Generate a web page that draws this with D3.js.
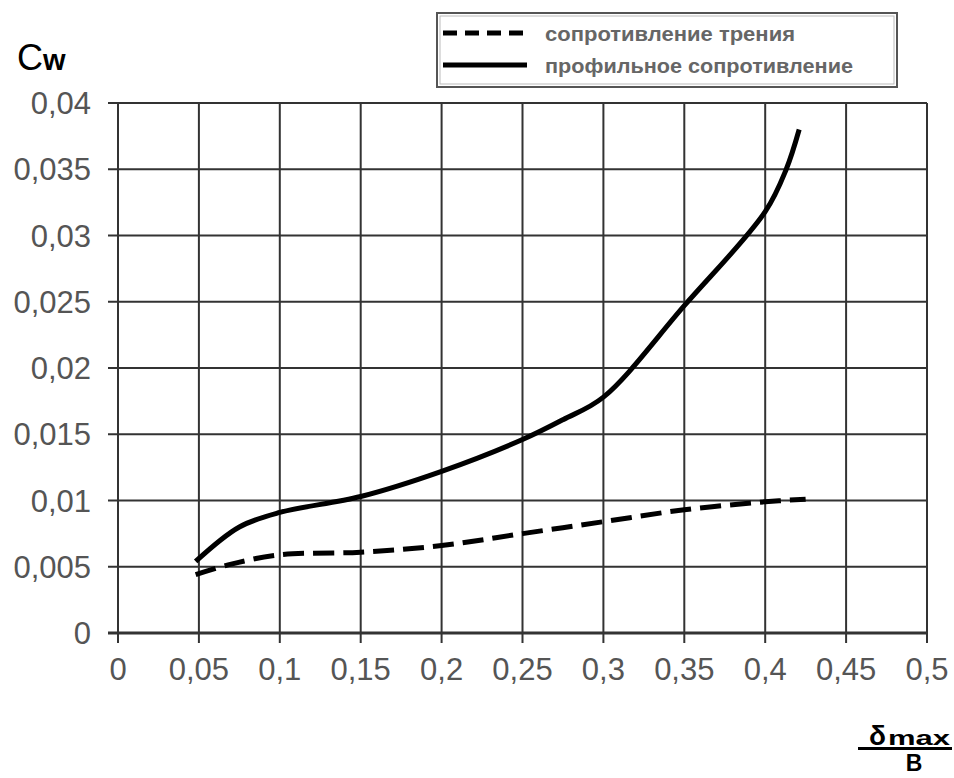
<!DOCTYPE html>
<html><head><meta charset="utf-8">
<script src="https://cdn.jsdelivr.net/npm/d3@7"></script>
<style>body{margin:0;background:#fff}svg{display:block}</style>
</head><body>
<script>
const xTicks = [0,0.05,0.1,0.15,0.2,0.25,0.3,0.35,0.4,0.45,0.5];
const yTicks = [0,0.005,0.01,0.015,0.02,0.025,0.03,0.035,0.04];
const frictionX = [0.048,0.07,0.1,0.15,0.2,0.25,0.3,0.35,0.4,0.425];
const frictionY = [0.0044,0.0052,0.0059,0.0061,0.0066,0.0075,0.0084,0.0093,0.0099,0.0101];
const profileX = [0.048,0.075,0.1,0.15,0.2,0.25,0.275,0.3,0.35,0.4,0.413,0.421];
const profileY = [0.0054,0.008,0.0091,0.0103,0.0122,0.0146,0.0161,0.0178,0.0247,0.0318,0.035,0.038];
const legendLabels = ["сопротивление трения","профильное сопротивление"];

const W=954,H=778;
const FONT="Liberation Sans, Arial, sans-serif";
const svg=d3.select("body").append("svg").attr("width",W).attr("height",H);
const x=d3.scaleLinear().domain([0,0.5]).range([118,927]);
const y=d3.scaleLinear().domain([0,0.04]).range([633,103]);
const fmt=d=>String(d).replace(".",",");

// grid
const g=svg.append("g");
g.selectAll(".vx").data(xTicks).join("line")
 .attr("x1",d=>x(d)).attr("x2",d=>x(d)).attr("y1",y(0.04)).attr("y2",643)
 .attr("stroke","#333").attr("stroke-width",2);
g.selectAll(".hy").data(yTicks).join("line")
 .attr("x1",108).attr("x2",x(0.5)).attr("y1",d=>y(d)).attr("y2",d=>y(d))
 .attr("stroke","#333").attr("stroke-width",d=>d===0?3:2);

// tick labels
svg.selectAll(".yl").data(yTicks).join("text")
 .attr("x",91).attr("y",d=>y(d)).attr("dy","0.36em").attr("text-anchor","end")
 .attr("font-family",FONT).attr("font-size",31)
 .attr("fill","#555").text(fmt);
svg.selectAll(".xl").data(xTicks).join("text")
 .attr("x",d=>x(d)).attr("y",669).attr("dy","0.36em").attr("text-anchor","middle")
 .attr("font-family",FONT).attr("font-size",31)
 .attr("fill","#555").text(fmt);

// series
const line=d3.line().x(d=>x(d[0])).y(d=>y(d[1])).curve(d3.curveCatmullRom.alpha(0.5));
const fr=frictionX.map((v,i)=>[v,frictionY[i]]);
const pr=profileX.map((v,i)=>[v,profileY[i]]);
svg.append("path").attr("d",line(fr)).attr("fill","none").attr("stroke","#000")
 .attr("stroke-width",5).attr("stroke-dasharray","21 9");
svg.append("path").attr("d",line(pr)).attr("fill","none").attr("stroke","#000")
 .attr("stroke-width",5);

// axis titles
const cw=svg.append("text").attr("x",17).attr("y",70)
 .attr("font-family",FONT).attr("fill","#000");
cw.append("tspan").attr("font-size",36).text("C");
cw.append("tspan").attr("font-size",29).attr("font-weight","bold").text("w");

svg.append("text").attr("x",869).attr("y",745).attr("font-family",FONT)
 .attr("font-size",28).attr("font-weight","bold").attr("fill","#000").text("δ");
svg.append("text").attr("x",888).attr("y",745).attr("font-family",FONT)
 .attr("font-size",21).attr("font-weight","bold").attr("fill","#000")
 .attr("textLength",62).attr("lengthAdjust","spacingAndGlyphs").text("max");
svg.append("line").attr("x1",858).attr("x2",952).attr("y1",748.5).attr("y2",748.5)
 .attr("stroke","#000").attr("stroke-width",3);
svg.append("text").attr("x",914).attr("y",771).attr("text-anchor","middle")
 .attr("font-family",FONT)
 .attr("font-size",23).attr("font-weight","bold").attr("fill","#000").text("B");

// legend
svg.append("rect").attr("x",437).attr("y",13).attr("width",460).attr("height",74)
 .attr("fill","#fff").attr("stroke","#555").attr("stroke-width",2);
svg.append("rect").attr("x",440).attr("y",16).attr("width",454).attr("height",68)
 .attr("fill","none").attr("stroke","#bbb").attr("stroke-width",1);
const leg=svg.selectAll(".lg").data(legendLabels).join("g")
 .attr("transform",(d,i)=>`translate(0,${i===0?33:65})`);
leg.append("line").attr("x1",443).attr("x2",527).attr("y1",0).attr("y2",0)
 .attr("stroke","#000").attr("stroke-width",5)
 .attr("stroke-dasharray",(d,i)=>i===0?"14 8":null);
leg.append("text").attr("x",545).attr("y",0).attr("dy","0.36em")
 .attr("font-family",FONT).attr("font-size",21).attr("font-weight","bold")
 .attr("fill","#666")
 .attr("textLength",(d,i)=>i===0?250:308).attr("lengthAdjust","spacingAndGlyphs")
 .text(d=>d);
</script>
</body></html>
